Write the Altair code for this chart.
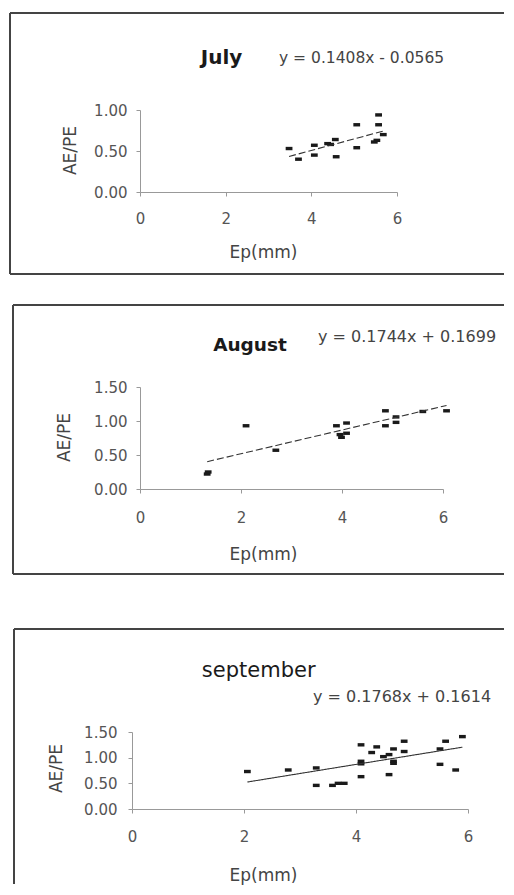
import altair as alt
import pandas as pd

# ---------------- data ----------------
july_x = [3.48, 3.70, 4.07, 4.07, 4.38, 4.45, 4.56, 4.58, 5.06, 5.06, 5.57, 5.57, 5.47, 5.53, 5.68]
july_y = [0.53, 0.40, 0.57, 0.45, 0.59, 0.58, 0.64, 0.43, 0.82, 0.54, 0.94, 0.82, 0.61, 0.63, 0.70]

aug_x = [1.33, 1.35, 2.10, 2.69, 3.89, 4.09, 3.96, 4.09, 3.99, 4.86, 4.86, 5.07, 5.07, 5.60, 6.07]
aug_y = [0.22, 0.25, 0.93, 0.57, 0.93, 0.97, 0.80, 0.82, 0.76, 1.15, 0.93, 1.06, 0.98, 1.14, 1.15]

sep_x = [2.06, 2.79, 3.29, 3.29, 3.58, 3.68, 3.79, 4.09, 4.09, 4.09, 4.09, 4.28, 4.37,
         4.49, 4.59, 4.59, 4.67, 4.67, 4.67, 4.86, 4.86, 5.50, 5.50, 5.60, 5.78, 5.90]
sep_y = [0.73, 0.76, 0.80, 0.46, 0.46, 0.50, 0.50, 1.25, 0.93, 0.88, 0.63, 1.10, 1.21,
         1.02, 1.06, 0.67, 1.17, 0.93, 0.89, 1.32, 1.12, 1.17, 0.87, 1.32, 0.76, 1.41]

titles = ["July", "August", "september"]
equations = ["y = 0.1408x - 0.0565", "y = 0.1744x + 0.1699", "y = 0.1768x + 0.1614"]
slopes = [0.1408, 0.1744, 0.1768]
intercepts = [-0.0565, 0.1699, 0.1614]

x_ticks = [0, 2, 4, 6]
y_ticks_july = [0.0, 0.5, 1.0]
y_ticks_other = [0.0, 0.5, 1.0, 1.5]
x_title = "Ep(mm)"
y_title = "AE/PE"

# ---------------- layout (page pixel coordinates) ----------------
ORIGIN_X = 140          # common plot-origin column of the stacked panels
layouts = [
    dict(ax0=140, ax1=397, top=110, h=82, ymax=1.0, yticks=y_ticks_july,
         cell=(8, 290), border=(10, 13, 274), title=(221.5, 58), bold=True, tsize=20,
         eq=(279, 58), eqsize=15.5, ytitle=(70, 150), xtitle=(263, 252), ypad=9, xpad=22,
         dash=[7, 3]),
    dict(ax0=140, ax1=443, top=387, h=102, ymax=1.5, yticks=y_ticks_other,
         cell=(290, 600), border=(13, 305, 574), title=(250, 345), bold=True, tsize=18.5,
         eq=(318, 337), eqsize=16, ytitle=(64, 437), xtitle=(263, 554), ypad=9, xpad=24,
         dash=[7, 3]),
    dict(ax0=132, ax1=468, top=732, h=77, ymax=1.5, yticks=y_ticks_other,
         cell=(600, 884), border=(14, 629, None), title=(258.7, 671), bold=False, tsize=21,
         eq=(313, 697), eqsize=16, ytitle=(56.7, 768), xtitle=(263, 875), ypad=11, xpad=23,
         dash=[1, 0]),
]

FONT = "DejaVu Sans"
AXIS_GRAY = "#999999"
CELL_LEFT, CELL_RIGHT = 8, 504


def panel(xs, ys, i):
    L = layouts[i]
    px, py = ORIGIN_X, L["top"]
    rx = lambda v: v - px
    ry = lambda v: v - py
    one = pd.DataFrame({"k": [0]})

    pts = pd.DataFrame({"x": xs, "y": ys})
    tx = [min(xs), max(xs)]
    trend = pd.DataFrame({"x": tx, "y": [slopes[i] * v + intercepts[i] for v in tx]})

    y_offset = ORIGIN_X - L["ax0"]

    xaxis = alt.Axis(values=x_ticks, tickCount=len(x_ticks), format="d", grid=False, zindex=1,
                     domainColor=AXIS_GRAY, tickColor=AXIS_GRAY, tickSize=4,
                     labelFont=FONT, labelFontSize=15, labelColor="#555555",
                     labelPadding=L["xpad"], labelBaseline="middle", labelFlush=False,
                     labelOverlap=False,
                     title=x_title, titleFont=FONT, titleFontSize=17, titleFontWeight="normal",
                     titleColor="#444444", titleX=rx(L["xtitle"][0]),
                     titleY=L["xtitle"][1] - (py + L["h"]),
                     titleAlign="center", titleBaseline="middle")
    yaxis = alt.Axis(values=L["yticks"], tickCount=len(L["yticks"]), format=".2f", grid=False,
                     zindex=1, offset=y_offset, domainColor=AXIS_GRAY, tickColor=AXIS_GRAY,
                     tickSize=4, labelFont=FONT, labelFontSize=15, labelColor="#555555",
                     labelPadding=L["ypad"], labelBaseline="middle", labelFlush=False,
                     labelOverlap=False,
                     title=y_title, titleFont=FONT, titleFontSize=17, titleFontWeight="normal",
                     titleColor="#444444", titleX=L["ytitle"][0] - L["ax0"],
                     titleY=ry(L["ytitle"][1]),
                     titleAlign="center", titleBaseline="middle", titleAngle=270)

    xenc = alt.X("x:Q", scale=alt.Scale(domain=[0, 6], nice=False, zero=False,
                                        range=[rx(L["ax0"]), rx(L["ax1"])]), axis=xaxis)
    yenc = alt.Y("y:Q", scale=alt.Scale(domain=[0, L["ymax"]], nice=False, zero=False),
                 axis=yaxis)

    cy0, cy1 = L["cell"]
    bg = alt.Chart(one).mark_rect(color="white").encode(
        x=alt.value(rx(CELL_LEFT)), x2=alt.value(rx(CELL_RIGHT)),
        y=alt.value(ry(cy0)), y2=alt.value(ry(cy1)))

    bl, bt, bb = L["border"]
    bottom_y = bb if bb is not None else cy1
    layers = [bg]
    layers.append(alt.Chart(one).mark_rule(color="#444444", strokeWidth=2).encode(
        x=alt.value(rx(bl)), x2=alt.value(rx(CELL_RIGHT)), y=alt.value(ry(bt))))
    layers.append(alt.Chart(one).mark_rule(color="#444444", strokeWidth=2).encode(
        x=alt.value(rx(bl)), y=alt.value(ry(bt)), y2=alt.value(ry(bottom_y))))
    if bb is not None:
        layers.append(alt.Chart(one).mark_rule(color="#444444", strokeWidth=2).encode(
            x=alt.value(rx(bl)), x2=alt.value(rx(CELL_RIGHT)), y=alt.value(ry(bb))))

    points = alt.Chart(pts).mark_point(shape="M-1,-0.5H1V0.5H-1Z", size=46, filled=True,
                                       color="#1a1a1a", opacity=1).encode(x=xenc, y=yenc)
    line = alt.Chart(trend).mark_line(color="#333333", strokeWidth=1.1,
                                      strokeDash=L["dash"]).encode(x="x:Q", y="y:Q")
    layers += [points, line]

    layers.append(alt.Chart(one).mark_text(
        font=FONT, fontSize=L["tsize"], fontWeight="bold" if L["bold"] else "normal",
        color="#1a1a1a", align="center", baseline="middle").encode(
        x=alt.value(rx(L["title"][0])), y=alt.value(ry(L["title"][1])), text=alt.value(titles[i])))
    layers.append(alt.Chart(one).mark_text(
        font=FONT, fontSize=L["eqsize"], color="#444444", align="left", baseline="middle").encode(
        x=alt.value(rx(L["eq"][0])), y=alt.value(ry(L["eq"][1])), text=alt.value(equations[i])))

    return alt.layer(*layers).properties(width=L["ax1"] - ORIGIN_X, height=L["h"])


chart = alt.concat(
    panel(july_x, july_y, 0),
    panel(aug_x, aug_y, 1),
    panel(sep_x, sep_y, 2),
    columns=1,
    spacing=0,
    align="none",
).properties(padding=0).configure_view(strokeWidth=0)

chart.save("out.html", embed_options={"renderer": "svg", "actions": False})
